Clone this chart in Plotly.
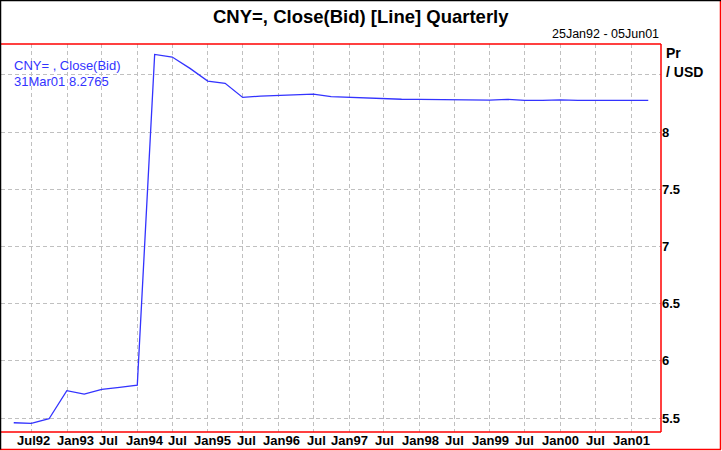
import plotly.graph_objects as go

dates = ["1992-03-31", "1992-06-30", "1992-09-30", "1992-12-31",
         "1993-03-31", "1993-06-30", "1993-09-30", "1993-12-31",
         "1994-03-31", "1994-06-30", "1994-09-30", "1994-12-31",
         "1995-03-31", "1995-06-30", "1995-09-30", "1995-12-31",
         "1996-03-31", "1996-06-30", "1996-09-30", "1996-12-31",
         "1997-03-31", "1997-06-30", "1997-09-30", "1997-12-31",
         "1998-03-31", "1998-06-30", "1998-09-30", "1998-12-31",
         "1999-03-31", "1999-06-30", "1999-09-30", "1999-12-31",
         "2000-03-31", "2000-06-30", "2000-09-30", "2000-12-31",
         "2001-03-31"]
close_bid = [5.459, 5.453, 5.494, 5.739,
             5.710, 5.751, 5.768, 5.788,
             8.679, 8.656, 8.557, 8.446,
             8.426, 8.303, 8.315, 8.320,
             8.329, 8.331, 8.310, 8.303,
             8.298, 8.293, 8.287, 8.286,
             8.285, 8.284, 8.277, 8.280,
             8.286, 8.278, 8.277, 8.281,
             8.278, 8.277, 8.280, 8.277,
             8.2765]

x_tick_vals = ["1992-07-01", "1993-01-01", "1993-07-01", "1994-01-01", "1994-07-01",
               "1995-01-01", "1995-07-01", "1996-01-01", "1996-07-01", "1997-01-01",
               "1997-07-01", "1998-01-01", "1998-07-01", "1999-01-01", "1999-07-01",
               "2000-01-01", "2000-07-01", "2001-01-01"]
x_tick_text = ["Jul92", "Jan93", "Jul", "Jan94", "Jul", "Jan95", "Jul", "Jan96", "Jul",
               "Jan97", "Jul", "Jan98", "Jul", "Jan99", "Jul", "Jan00", "Jul", "Jan01"]
# label nudges (px) so crowded labels do not collide, as in the original
x_label_shift = [2, 8, 7, 7.5, 5, 4.5, 4, 3, 2.5, 0.5, 1, 1, 0, 0.5, 0, 0.5, 0, 0.5]
y_tick_vals = [5.5, 6, 6.5, 7, 7.5, 8, 8.5]
y_tick_text = ["5.5", "6", "6.5", "7", "7.5", "8", ""]

W, H = 722, 451
L, R, T, B = 1, 61, 44, 19
PW, PH = W - L - R, H - T - B

def px(xp):
    return (xp - L) / PW

def py(yp):
    return 1 - (yp - T) / PH

blue = "#3333ff"
red = "#ff0000"
font = "Liberation Sans, Arial, sans-serif"

fig = go.Figure()
fig.add_trace(go.Scatter(x=dates, y=close_bid, mode="lines",
                         line=dict(color=blue, width=1.3), hoverinfo="skip",
                         showlegend=False))

fig.update_layout(
    width=W, height=H,
    margin=dict(l=L, r=R, t=T, b=B),
    paper_bgcolor="white", plot_bgcolor="white",
    font=dict(family=font, color="black"),
    xaxis=dict(type="date", range=["1992-01-25", "2001-06-05"],
               tickvals=x_tick_vals, showticklabels=False,
               showgrid=True, gridcolor="#c0c0c0", griddash="4px,3px", gridwidth=1,
               zeroline=False, showline=False, ticks="", fixedrange=True),
    yaxis=dict(range=[5.378, 8.77], side="right",
               tickvals=y_tick_vals, ticktext=y_tick_text,
               tickfont=dict(size=13, weight="bold", color="black"),
               showgrid=True, gridcolor="#c0c0c0", griddash="4px,3px", gridwidth=1,
               zeroline=False, showline=False, ticks="", fixedrange=True),
)

ann = [
    dict(text="CNY=, Close(Bid) [Line] Quarterly", x=px(361), y=py(16),
         xanchor="center", yanchor="middle", xref="paper", yref="paper",
         font=dict(size=18.5, weight="bold", color="black")),
    dict(text="25Jan92 - 05Jun01", x=px(661), y=py(34), xanchor="right", yanchor="middle",
         xref="paper", yref="paper", font=dict(size=12.5, color="black")),
    dict(text="CNY= , Close(Bid)", x=px(12), y=py(65), xanchor="left", yanchor="middle",
         xref="paper", yref="paper", font=dict(size=13, color=blue)),
    dict(text="31Mar01 8.2765", x=px(12), y=py(81), xanchor="left", yanchor="middle",
         xref="paper", yref="paper", font=dict(size=13, color=blue)),
    dict(text="Pr", x=px(664), y=py(53), xanchor="left", yanchor="middle",
         xref="paper", yref="paper", font=dict(size=14, weight="bold", color="black")),
    dict(text="/ USD", x=px(664), y=py(72), xanchor="left", yanchor="middle",
         xref="paper", yref="paper", font=dict(size=14, weight="bold", color="black")),
]
for tv, tt, sh in zip(x_tick_vals, x_tick_text, x_label_shift):
    ann.append(dict(text=tt, x=tv, xref="x", y=py(440.5), yref="paper",
                    xanchor="center", yanchor="middle", xshift=sh,
                    font=dict(size=13, weight="bold", color="black")))
for a in ann:
    a.update(showarrow=False)
fig.update_layout(annotations=ann)

shapes = [
    # plot frame (red)
    dict(x0=px(0), x1=px(661), y0=py(44), y1=py(44), line=dict(color=red, width=1.5)),
    dict(x0=px(661), x1=px(661), y0=py(44), y1=py(432), line=dict(color=red, width=1.5)),
    dict(x0=px(0), x1=px(661), y0=py(432), y1=py(432), line=dict(color=red, width=1.5)),
    # outer frame
    dict(x0=px(720.5), x1=px(720.5), y0=py(0), y1=py(449.5), line=dict(color=red, width=1.5)),
    dict(x0=px(0), x1=px(721), y0=py(449.5), y1=py(449.5), line=dict(color=red, width=1.5)),
    dict(x0=px(0.5), x1=px(0.5), y0=py(0), y1=py(449.5), line=dict(color="black", width=1.5)),
    dict(x0=px(0), x1=px(721), y0=py(0.5), y1=py(0.5), line=dict(color="black", width=1.5)),
]
for s in shapes:
    s.update(type="line", xref="paper", yref="paper", layer="above")
fig.update_layout(shapes=shapes)

fig.write_html("out.html", config={"displayModeBar": False},
               post_script="document.body.style.margin='0';document.body.style.overflow='hidden';")
